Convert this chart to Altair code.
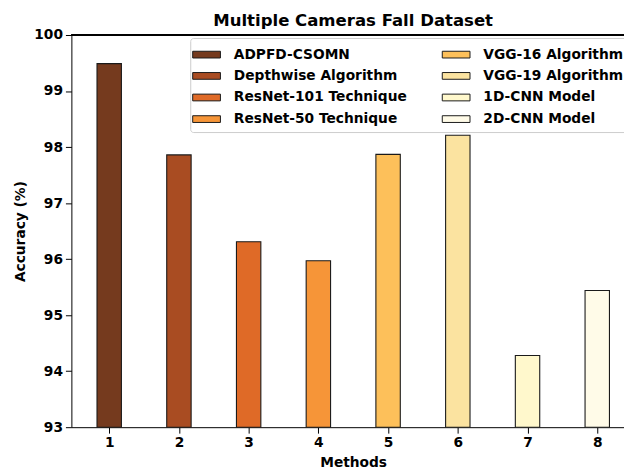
import altair as alt
import pandas as pd

methods = [1, 2, 3, 4, 5, 6, 7, 8]
names = ["ADPFD-CSOMN", "Depthwise Algorithm", "ResNet-101 Technique", "ResNet-50 Technique",
         "VGG-16 Algorithm", "VGG-19 Algorithm", "1D-CNN Model", "2D-CNN Model"]
accuracy = [99.49, 97.86, 96.31, 95.97, 97.87, 98.21, 94.28, 95.44]
colors = ["#753a1e", "#a94c22", "#df6a27", "#f69538", "#fdc05a", "#fbe3a0", "#fff8cc", "#fffbe8"]
y_ticks = [93, 94, 95, 96, 97, 98, 99, 100]

df = pd.DataFrame({"method": methods, "name": names, "acc": accuracy})

FONT = "DejaVu Sans"
W, H = 558, 396

xscale = alt.Scale(domain=[0.4575, 0.4575 + W / 70.4], nice=False, zero=False)
yscale = alt.Scale(domain=[93, 100], nice=False, zero=False)

bars = alt.Chart(df).transform_calculate(
    x0="datum.method - 0.175", x1="datum.method + 0.175"
).mark_bar(stroke="#1a1a1a", strokeWidth=1.1, opacity=1).encode(
    x=alt.X("x0:Q", scale=xscale,
            axis=alt.Axis(values=methods, format="d", title="Methods", grid=False,
                          titleX=284.5)),
    x2="x1:Q",
    y=alt.Y("acc:Q", scale=yscale,
            axis=alt.Axis(values=y_ticks, format="d", title="Accuracy (%)", grid=False)),
    y2=alt.datum(93),
    color=alt.Color("name:N",
                    scale=alt.Scale(domain=names, range=colors),
                    legend=alt.Legend(title=None, orient="none", legendX=120, legendY=3,
                                      columns=2, direction="vertical",
                                      symbolType="M-1.4,-0.34H1.4V0.34H-1.4Z",
                                      symbolSize=400, symbolStrokeColor="#1a1a1a",
                                      symbolStrokeWidth=1, symbolOpacity=1,
                                      labelFont=FONT, labelFontSize=13.9, labelFontWeight="bold",
                                      labelColor="black", labelOffset=17, columnPadding=33,
                                      rowPadding=3.8, padding=6, strokeColor="#cccccc",
                                      fillColor="white", cornerRadius=3, labelLimit=300)),
)

top_spine = alt.Chart(df).mark_rule(color="black", strokeWidth=1).encode(
    y=alt.datum(100, scale=yscale)
)

chart = alt.layer(bars, top_spine).properties(
    width=W, height=H,
    title=alt.TitleParams("Multiple Cameras Fall Dataset", font=FONT, fontSize=16.7,
                          fontWeight="bold", color="black", anchor="middle", offset=8,
                          dx=5.5, dy=10),
    autosize=alt.AutoSizeParams(type="none"),
    padding={"left": 64, "top": 25, "right": 0, "bottom": 46},
).configure_view(stroke=None).configure_axis(
    domainColor="black", domainWidth=1, tickColor="black", tickSize=6, tickWidth=1,
    labelFont=FONT, labelFontSize=13.9, labelFontWeight="bold", labelColor="black",
    labelPadding=3, titleFont=FONT, titleFontSize=13.9, titleFontWeight="bold",
    titleColor="black", titlePadding=6,
)

chart.save("out.html", embed_options={"renderer": "svg", "actions": False})
